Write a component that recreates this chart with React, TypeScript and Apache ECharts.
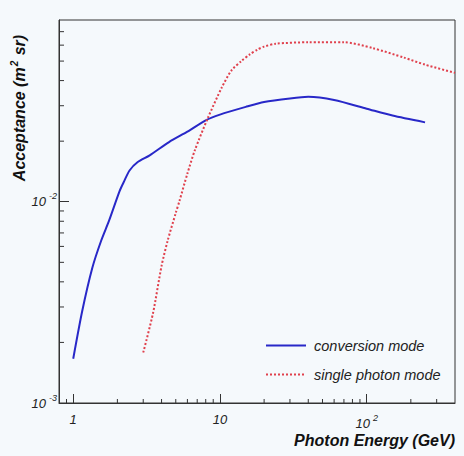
import React, { useEffect, useRef } from "react";
import * as echarts from "echarts";

const convEnergy = [1, 1.15, 1.35, 1.55, 1.76, 2.07, 2.23, 2.42, 2.74, 3.32, 4.5, 6.0, 8.0, 10, 15, 20, 30, 40, 60, 100, 150, 250];
const convAcc = [0.00166, 0.00285, 0.0047, 0.0064, 0.0081, 0.0113, 0.0127, 0.0143, 0.0157, 0.017, 0.0198, 0.0223, 0.0254, 0.0271, 0.0296, 0.0313, 0.0326, 0.0332, 0.032, 0.029, 0.0268, 0.0248];

const singleEnergy = [3.0, 3.5, 4.0, 4.4, 5.0, 5.3, 6.0, 6.74, 8.26, 10.3, 12, 14, 16, 18, 20, 24, 40, 70, 110, 180, 250, 400];
const singleAcc = [0.00178, 0.0028, 0.0048, 0.0064, 0.0088, 0.0101, 0.0138, 0.018, 0.026, 0.037, 0.045, 0.05, 0.054, 0.057, 0.059, 0.061, 0.062, 0.062, 0.058, 0.052, 0.048, 0.0437];

const xMin = 0.8;
const xMax = 400;
const yMin = 0.001;
const yMax = 0.08;

const xMinorTicks = [0.9, 2, 3, 4, 5, 6, 7, 8, 9, 20, 30, 40, 50, 60, 70, 80, 90, 200, 300];
const yMinorTicks = [0.002, 0.003, 0.004, 0.005, 0.006, 0.007, 0.008, 0.009, 0.02, 0.03, 0.04, 0.05, 0.06, 0.07];

const seriesNames = ["conversion mode", "single photon mode"];

const BG = "#f5f9fc";
const AXIS = "#333333";

export default function App() {
  const ref = useRef<HTMLDivElement>(null);
  useEffect(() => {
    if (!ref.current) return;
    const chart = echarts.init(ref.current, undefined, { renderer: "svg" });
    const labelFont = "Liberation Sans, Arial, sans-serif";
    const rich = {
      b: { fontSize: 13, fontStyle: "italic", color: "#222", fontFamily: labelFont },
      s: { fontSize: 9, fontStyle: "italic", color: "#222", fontFamily: labelFont, verticalAlign: "top", padding: [0, 0, 11, 3] },
    };
    const option: any = {
      animation: false,
      backgroundColor: BG,
      grid: {
        left: 59,
        right: 9,
        top: 20,
        bottom: 53,
        show: true,
        borderColor: AXIS,
        borderWidth: 1,
        backgroundColor: BG,
      },
      legend: {
        orient: "vertical",
        left: 260,
        top: 333,
        itemWidth: 40,
        itemHeight: 14,
        itemGap: 14,
        data: seriesNames,
        itemStyle: { opacity: 0 },
        textStyle: { fontSize: 14.5, fontStyle: "italic", color: "#222", fontFamily: labelFont, padding: [0, 0, 0, 3] },
      },
      xAxis: {
        type: "log",
        logBase: 10,
        min: xMin,
        max: xMax,
        splitLine: { show: false },
        axisLine: { show: true, onZero: false, lineStyle: { color: AXIS, width: 1 } },
        axisTick: { show: true, inside: true, length: 9, lineStyle: { color: AXIS } },
        axisLabel: {
          margin: 10,
          showMinLabel: false,
          showMaxLabel: false,
          formatter: (v: number) => {
            const e = Math.round(Math.log10(v));
            if (Math.abs(Math.log10(v) - e) > 1e-6) return "";
            if (e === 0) return "{b|1}";
            if (e === 1) return "{b|10}";
            return "{b|10}{s|" + e + "}";
          },
          rich,
        },
      },
      yAxis: {
        type: "log",
        logBase: 10,
        min: yMin,
        max: yMax,
        splitLine: { show: false },
        axisLine: { show: true, onZero: false, lineStyle: { color: AXIS, width: 1 } },
        axisTick: { show: true, inside: true, length: 10, lineStyle: { color: AXIS } },
        axisLabel: {
          margin: 2,
          showMinLabel: true,
          showMaxLabel: false,
          formatter: (v: number) => {
            const e = Math.round(Math.log10(v));
            if (Math.abs(Math.log10(v) - e) > 1e-6) return "";
            return "{b|10}{s|" + e + "}";
          },
          rich,
        },
      },
      graphic: [
        {
          type: "text",
          right: 9,
          top: 432,
          style: {
            text: "Photon Energy (GeV)",
            fontSize: 16,
            fontWeight: "bold",
            fontStyle: "italic",
            fontFamily: labelFont,
            fill: "#111",
          },
        },
        {
          type: "text",
          x: 19,
          y: 108,
          rotation: Math.PI / 2,
          style: {
            text: "Acceptance (m{s|2} sr)",
            align: "center",
            verticalAlign: "middle",
            fontSize: 16,
            fontWeight: "bold",
            fontStyle: "italic",
            fontFamily: labelFont,
            fill: "#111",
            rich: {
              s: { fontSize: 10, fontWeight: "bold", fontStyle: "italic", fontFamily: labelFont, fill: "#111", verticalAlign: "top", padding: [0, 1, 9, 1] },
            },
          },
        },
      ],
      series: [
        {
          name: seriesNames[0],
          type: "line",
          data: convEnergy.map((x, i) => [x, convAcc[i]]),
          symbol: "none",
          smooth: 0.25,
          lineStyle: { color: "#2828c8", width: 2, type: "solid" },
          itemStyle: { color: "#2828c8" },
          z: 3,
        },
        {
          name: seriesNames[1],
          type: "line",
          data: singleEnergy.map((x, i) => [x, singleAcc[i]]),
          symbol: "none",
          smooth: 0.25,
          lineStyle: { color: "#e0404c", width: 2, type: [2, 2] },
          itemStyle: { color: "#e0404c" },
          z: 3,
        },
        {
          type: "custom",
          silent: true,
          data: xMinorTicks.map((v) => [v, yMin]),
          renderItem: (params: any, api: any) => {
            const p = api.coord([api.value(0), api.value(1)]);
            return {
              type: "line",
              shape: { x1: p[0], y1: p[1], x2: p[0], y2: p[1] - 4 },
              style: { stroke: AXIS, lineWidth: 1 },
            };
          },
          z: 2,
        },
        {
          type: "custom",
          silent: true,
          data: yMinorTicks.map((v) => [xMin, v]),
          renderItem: (params: any, api: any) => {
            const p = api.coord([api.value(0), api.value(1)]);
            return {
              type: "line",
              shape: { x1: p[0], y1: p[1], x2: p[0] + 5, y2: p[1] },
              style: { stroke: AXIS, lineWidth: 1 },
            };
          },
          z: 2,
        },
      ],
    };
    chart.setOption(option);
    return () => chart.dispose();
  }, []);
  return (
    <div
      ref={ref}
      style={{ position: "absolute", left: 0, top: 0, width: 464, height: 456, background: BG }}
    />
  );
}
